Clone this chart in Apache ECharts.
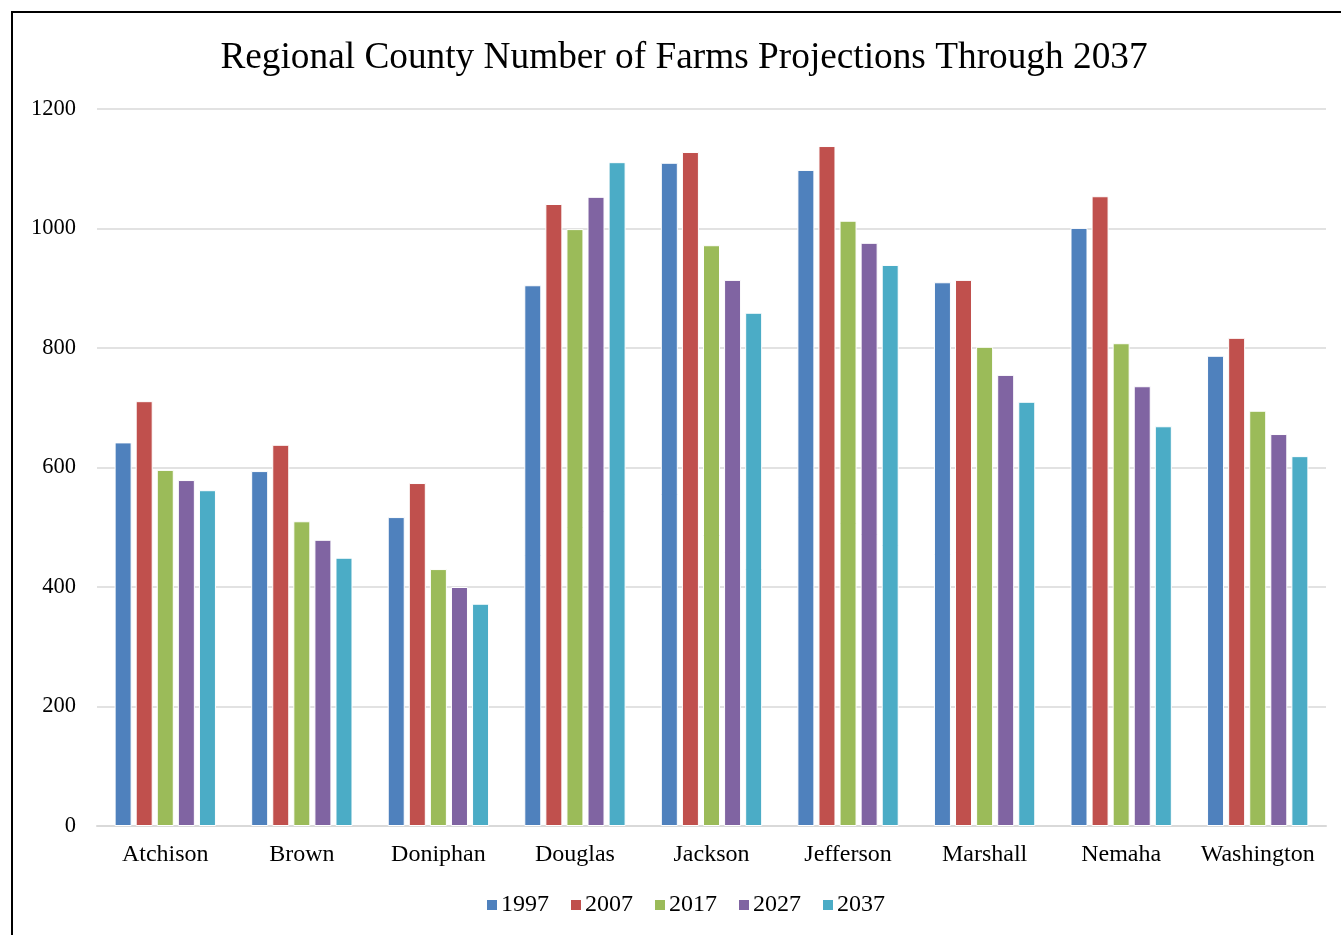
<!DOCTYPE html>
<html>
<head>
<meta charset="utf-8">
<script src="https://cdn.jsdelivr.net/npm/echarts@6/dist/echarts.min.js"></script>
<style>
  html, body { margin: 0; padding: 0; background: #fff; }
  #chart { width: 1341px; height: 935px; }
</style>
</head>
<body>
<div id="chart"></div>
<script>
const counties = ['Atchison', 'Brown', 'Doniphan', 'Douglas', 'Jackson', 'Jefferson', 'Marshall', 'Nemaha', 'Washington']
const years = ['1997', '2007', '2017', '2027', '2037']
const farms1997 = [642, 594, 517, 905, 1110, 1098, 910, 1001, 787]
const farms2007 = [711, 638, 574, 1041, 1128, 1138, 914, 1054, 817]
const farms2017 = [596, 510, 430, 999, 972, 1013, 802, 808, 695]
const farms2027 = [579, 479, 400, 1053, 914, 976, 755, 736, 656]
const farms2037 = [562, 449, 372, 1111, 859, 939, 710, 669, 619]
const colors = ['#4F81BD', '#C0504D', '#9BBB59', '#8064A2', '#4BACC6']

const font = '"Liberation Serif", "Times New Roman", serif'
const seriesData = [farms1997, farms2007, farms2017, farms2027, farms2037]

const option = {
    color: colors,
    textStyle: { fontFamily: font },
    title: {
        text: 'Regional County Number of Farms Projections Through 2037',
        left: 679,
        textAlign: 'center',
        top: 35,
        textStyle: { fontFamily: font, fontSize: 37.3, fontWeight: 'normal', color: '#000' }
    },
    legend: {
        bottom: 13,
        left: 480,
        itemWidth: 12,
        itemHeight: 12,
        itemGap: 20,
        icon: 'rect',
        textStyle: { fontFamily: font, fontSize: 24, color: '#000', padding: [0, 0, 0, -2] },
        data: years
    },
    grid: { left: 97, right: 15, top: 109, bottom: 109 },
    xAxis: {
        type: 'category',
        data: counties,
        axisLine: { lineStyle: { color: '#d9d9d9', width: 2 } },
        axisTick: { show: false },
        axisLabel: { fontFamily: font, fontSize: 24, color: '#000', margin: 17, interval: 0 }
    },
    yAxis: {
        type: 'value',
        min: 0,
        max: 1200,
        interval: 200,
        axisLine: { show: false },
        axisTick: { show: false },
        axisLabel: { fontFamily: font, fontSize: 22.5, color: '#000', margin: 21, formatter: v => String(v) },
        splitLine: { lineStyle: { color: '#d9d9d9', width: 1.5 } }
    },
    graphic: [{
        type: 'rect',
        shape: { x: 12, y: 12, width: 1400, height: 1000 },
        style: { fill: 'none', stroke: '#000', lineWidth: 2 },
        silent: true
    }],
    series: years.map((y, i) => ({
        name: y,
        type: 'bar',
        data: seriesData[i],
        barWidth: 17,
        barGap: '24%',
        itemStyle: { borderColor: '#fff', borderWidth: 1 }
    }))
}

const chart = echarts.init(document.getElementById('chart'))
chart.setOption(option)
</script>
</body>
</html>
